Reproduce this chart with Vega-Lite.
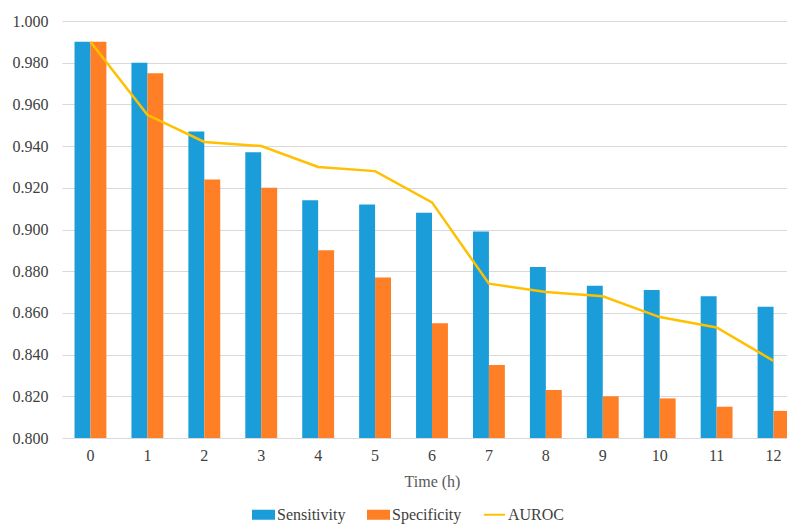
{
  "$schema": "https://vega.github.io/schema/vega-lite/v6.json",
  "autosize": "none",
  "width": 725,
  "height": 417,
  "padding": {"left": 62, "top": 21, "right": 0, "bottom": 87},
  "background": "white",
  "config": {
    "font": "'Liberation Serif', 'DejaVu Serif', serif",
    "view": {"stroke": null},
    "text": {"font": "'Liberation Serif', 'DejaVu Serif', serif"},
    "axis": {"labelFont": "'Liberation Serif', 'DejaVu Serif', serif", "titleFont": "'Liberation Serif', 'DejaVu Serif', serif", "labelFontSize": 16, "titleFontSize": 16, "labelColor": "#404040", "titleColor": "#595959", "titleFontWeight": "normal"},
    "legend": {"labelFont": "'Liberation Serif', 'DejaVu Serif', serif", "labelFontSize": 16, "labelColor": "#404040"}
  },
  "data": {
    "values": [
      {"time": 0, "metric": "Sensitivity", "value": 0.990},
      {"time": 1, "metric": "Sensitivity", "value": 0.980},
      {"time": 2, "metric": "Sensitivity", "value": 0.947},
      {"time": 3, "metric": "Sensitivity", "value": 0.937},
      {"time": 4, "metric": "Sensitivity", "value": 0.914},
      {"time": 5, "metric": "Sensitivity", "value": 0.912},
      {"time": 6, "metric": "Sensitivity", "value": 0.908},
      {"time": 7, "metric": "Sensitivity", "value": 0.899},
      {"time": 8, "metric": "Sensitivity", "value": 0.882},
      {"time": 9, "metric": "Sensitivity", "value": 0.873},
      {"time": 10, "metric": "Sensitivity", "value": 0.871},
      {"time": 11, "metric": "Sensitivity", "value": 0.868},
      {"time": 12, "metric": "Sensitivity", "value": 0.863},
      {"time": 0, "metric": "Specificity", "value": 0.990},
      {"time": 1, "metric": "Specificity", "value": 0.975},
      {"time": 2, "metric": "Specificity", "value": 0.924},
      {"time": 3, "metric": "Specificity", "value": 0.920},
      {"time": 4, "metric": "Specificity", "value": 0.890},
      {"time": 5, "metric": "Specificity", "value": 0.877},
      {"time": 6, "metric": "Specificity", "value": 0.855},
      {"time": 7, "metric": "Specificity", "value": 0.835},
      {"time": 8, "metric": "Specificity", "value": 0.823},
      {"time": 9, "metric": "Specificity", "value": 0.820},
      {"time": 10, "metric": "Specificity", "value": 0.819},
      {"time": 11, "metric": "Specificity", "value": 0.815},
      {"time": 12, "metric": "Specificity", "value": 0.813},
      {"time": 0, "metric": "AUROC", "value": 0.990},
      {"time": 1, "metric": "AUROC", "value": 0.955},
      {"time": 2, "metric": "AUROC", "value": 0.942},
      {"time": 3, "metric": "AUROC", "value": 0.940},
      {"time": 4, "metric": "AUROC", "value": 0.930},
      {"time": 5, "metric": "AUROC", "value": 0.928},
      {"time": 6, "metric": "AUROC", "value": 0.913},
      {"time": 7, "metric": "AUROC", "value": 0.874},
      {"time": 8, "metric": "AUROC", "value": 0.870},
      {"time": 9, "metric": "AUROC", "value": 0.868},
      {"time": 10, "metric": "AUROC", "value": 0.858},
      {"time": 11, "metric": "AUROC", "value": 0.853},
      {"time": 12, "metric": "AUROC", "value": 0.837}
    ]
  },
  "encoding": {
    "x": {
      "field": "time", "type": "ordinal", "title": "Time (h)",
      "scale": {"paddingInner": 0.44, "paddingOuter": 0.22, "range": [0, 740]},
      "axis": {"labelAngle": 0, "domain": false, "ticks": false, "labelPadding": 9, "titlePadding": 10}
    },
    "y": {
      "field": "value", "type": "quantitative", "title": null,
      "scale": {"domain": [0.8, 1.0], "zero": false, "nice": false},
      "axis": {"values": [0.8, 0.82, 0.84, 0.86, 0.88, 0.9, 0.92, 0.94, 0.96, 0.98, 1.0], "format": ".3f", "domain": false, "ticks": false, "labelPadding": 14, "gridColor": "#d9d9d9", "gridWidth": 1}
    },
    "color": {
      "field": "metric", "type": "nominal", "title": null,
      "scale": {"domain": ["Sensitivity", "Specificity", "AUROC"], "range": ["#1a9dd9", "#ff7f27", "#ffc000"]},
      "legend": {
        "orient": "none", "direction": "horizontal", "legendX": 190, "legendY": 482,
        "symbolSize": 441, "labelOffset": 2, "columnPadding": 18,
        "encode": {
          "symbols": {
            "update": {
              "shape": {"signal": "datum.value === 'AUROC' ? 'M-1,0H1' : 'M-1,-0.38H1V0.38H-1Z'"},
              "fill": {"signal": "datum.value === 'AUROC' ? 'transparent' : scale('color', datum.value)"},
              "stroke": {"signal": "datum.value === 'AUROC' ? scale('color', datum.value) : 'transparent'"},
              "strokeWidth": {"value": 2},
              "opacity": {"value": 1},
              "fillOpacity": {"value": 1},
              "strokeOpacity": {"value": 1}
            }
          }
        }
      }
    }
  },
  "layer": [
    {
      "transform": [{"filter": "datum.metric !== 'AUROC'"}],
      "mark": {"type": "bar"},
      "encoding": {
        "y2": {"datum": 0.8},
        "xOffset": {"field": "metric", "type": "nominal", "scale": {"domain": ["Sensitivity", "Specificity"], "paddingInner": 0, "paddingOuter": 0}}
      }
    },
    {
      "transform": [{"filter": "datum.metric === 'AUROC'"}],
      "mark": {"type": "line", "strokeWidth": 2.5},
      "encoding": {}
    }
  ]
}
